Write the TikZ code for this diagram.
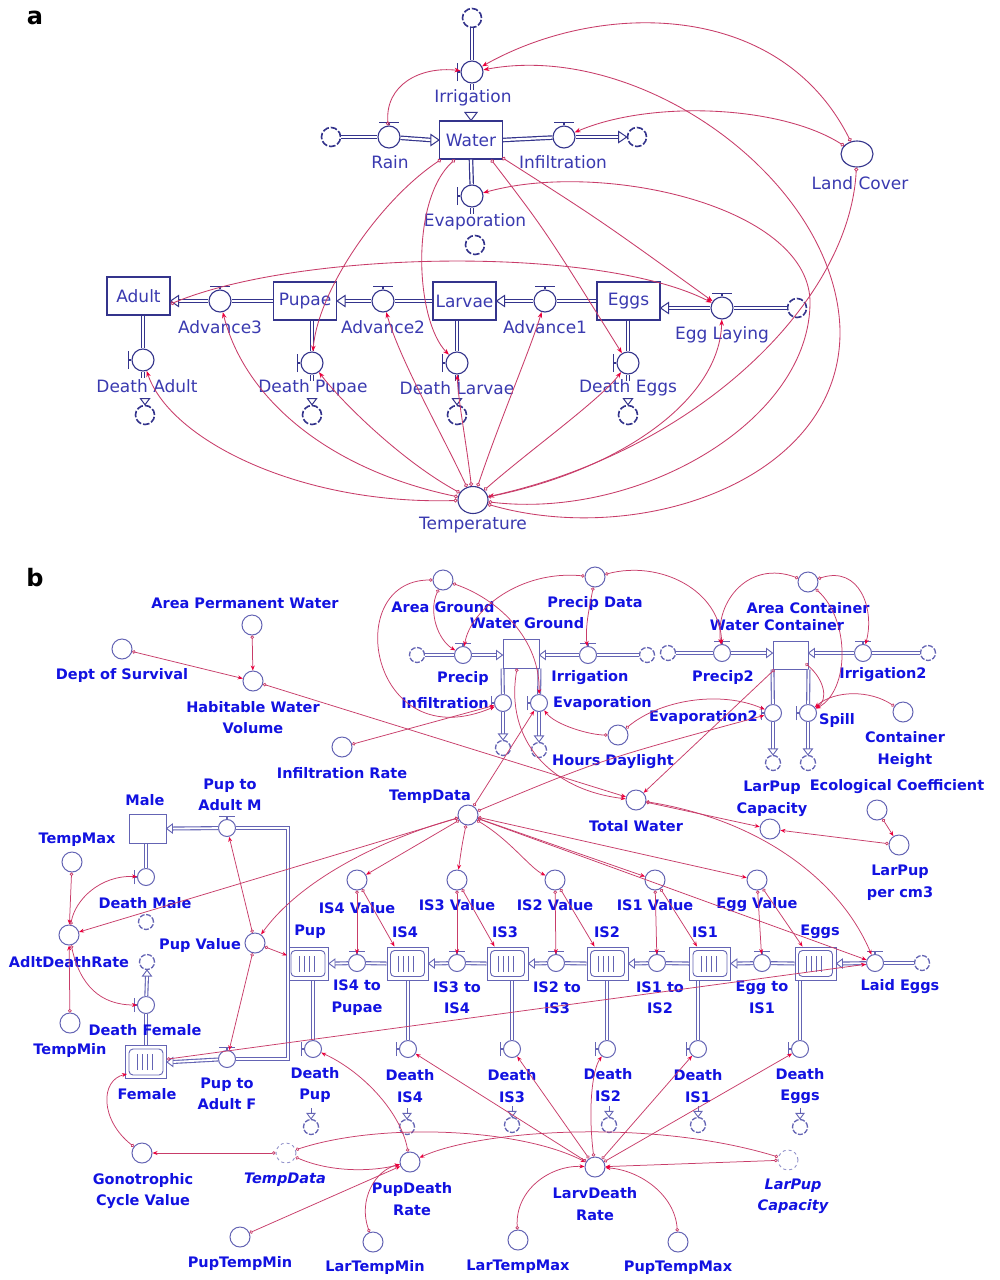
\documentclass[tikz,border=0pt]{standalone}
\usepackage{fontspec}
\setmainfont{DejaVu Sans}
\usetikzlibrary{arrows.meta,shapes.symbols,shapes.geometric,calc}
\definecolor{flowA}{RGB}{52,52,140}
\definecolor{flowB}{RGB}{100,100,180}
\definecolor{conn}{RGB}{200,60,105}
\definecolor{tipc}{RGB}{235,0,60}
\definecolor{labA}{RGB}{58,58,176}
\definecolor{labB}{RGB}{18,18,225}
\tikzset{
 pipeA/.style={draw=flowA, double=white, double distance=2.2pt, line width=1.2pt},
 pipeB/.style={draw=flowB, double=white, double distance=1.8pt, line width=1.1pt},
 tipA/.style={draw=flowA, fill=white, line width=1pt, line join=miter},
 tipB/.style={draw=flowB, fill=white, line width=0.9pt},
 valA/.style={circle, draw=flowA, line width=1.1pt, fill=white, minimum size=22pt, inner sep=0pt},
 valB/.style={circle, draw=flowB, line width=1pt, fill=white, minimum size=17pt, inner sep=0pt},
 auxA/.style={ellipse, draw=flowA, line width=1.1pt, fill=white, minimum width=32pt, minimum height=26pt, inner sep=0pt},
 auxB/.style={circle, draw=flowB, line width=1pt, fill=white, minimum size=20pt, inner sep=0pt},
 ghost/.style={circle, draw=flowB!70, dashed, line width=0.9pt, minimum size=20pt, inner sep=0pt},
 hdlA/.style={draw=flowA, line width=1.6pt},
 hdlB/.style={draw=flowB, line width=1.4pt},
 cloudA/.style={circle, draw=flowA, line width=1.6pt, dash pattern=on 6.5pt off 2pt, fill=white, minimum size=19pt, inner sep=0pt},
 cloudB/.style={circle, draw=flowB, line width=1.3pt, dash pattern=on 5pt off 1.6pt, fill=white, minimum size=15pt, inner sep=0pt},
 stockA/.style={rectangle, draw=flowA, line width=1.1pt, fill=white, minimum width=63pt, minimum height=38pt, inner sep=0pt, font=\fontsize{17}{19}\selectfont, text=labA},
 stockB/.style={rectangle, draw=flowB, line width=1pt, fill=white, inner sep=0pt},
 lA/.style={font=\fontsize{17}{19}\selectfont, text=labA, inner sep=0pt},
 lB/.style={font=\fontsize{14.5}{21.5}\selectfont\bfseries, text=labB, align=center, inner sep=0pt},
 lBi/.style={font=\fontsize{14.5}{21.5}\selectfont\bfseries\itshape, text=labB, align=center, inner sep=0pt},
 panel/.style={font=\fontsize{24}{26}\selectfont\bfseries, text=black, inner sep=0pt},
 cnA/.style={draw=conn, line width=0.85pt, {Circle[open,length=4pt,width=4pt,line width=0.8pt]}-{Stealth[length=6pt,width=4.5pt,color=tipc]}},
 cnB/.style={draw=conn, line width=0.75pt, {Circle[open,length=3.5pt,width=3.5pt,line width=0.7pt]}-{Stealth[length=5pt,width=4pt,color=tipc]}},
}
% valves
\newcommand{\vAT}[3]{\node[valA] (#1) at (#2,#3) {}; \draw[hdlA] (#1.north) -- ++(0,3pt) ++(-10pt,0) -- ++(20pt,0);}
\newcommand{\vAL}[3]{\node[valA] (#1) at (#2,#3) {}; \draw[hdlA] (#1.west) -- ++(-3pt,0) ++(0,-9pt) -- ++(0,18pt);}
\newcommand{\vBT}[3]{\node[valB] (#1) at (#2,#3) {}; \draw[hdlB] (#1.north) -- ++(0,2.5pt) ++(-8pt,0) -- ++(16pt,0);}
\newcommand{\vBL}[3]{\node[valB] (#1) at (#2,#3) {}; \draw[hdlB] (#1.west) -- ++(-2.5pt,0) ++(0,-7pt) -- ++(0,14pt);}
% open flow tips (tip at #2)
\newcommand{\ftL}[2]{\draw[#1] #2 -- ++(8pt,5.5pt) -- ++(0,-11pt) -- cycle;}
\newcommand{\ftR}[2]{\draw[#1] #2 -- ++(-8pt,5.5pt) -- ++(0,-11pt) -- cycle;}
\newcommand{\ftD}[2]{\draw[#1] #2 -- ++(-6pt,8pt) -- ++(12pt,0) -- cycle;}
\newcommand{\ftl}[2]{\draw[#1] #2 -- ++(6pt,4.5pt) -- ++(0,-9pt) -- cycle;}
\newcommand{\ftr}[2]{\draw[#1] #2 -- ++(-6pt,4.5pt) -- ++(0,-9pt) -- cycle;}
\newcommand{\ftd}[2]{\draw[#1] #2 -- ++(-4.5pt,6pt) -- ++(9pt,0) -- cycle;}
\newcommand{\ftu}[2]{\draw[#1] #2 -- ++(-4.5pt,-6pt) -- ++(9pt,0) -- cycle;}
% conveyor
\newcommand{\convey}[3]{%
 \node[stockB, minimum width=41pt, minimum height=33pt] (#1) at (#2,#3) {};
 \draw[flowB, line width=0.9pt, rounded corners=4pt] ($(#1.south west)+(4pt,4pt)$) rectangle ($(#1.north east)+(-4pt,-4pt)$);
 \foreach \k in {-9,-4,1,6} \draw[flowB, line width=0.8pt] ($(#1.center)+(\k pt,-8pt)$) -- ($(#1.center)+(\k pt,8pt)$);
}
\begin{document}
\begin{tikzpicture}[x=1pt,y=-1pt]
\fill[white] (0,0) rectangle (999,1280);
\useasboundingbox (0,0) rectangle (999,1280);
\node[panel] (pa) at (35,18) {a};
\node[panel] (pb) at (35,578) {b};

%================ PART A =================
\node[cloudA] (cIrr) at (472,18) {};
\vAL{vIrr}{472}{72}
\node[stockA] (Water) at (471,140) {Water};
\node[cloudA] (cRain) at (331,137) {};
\vAT{vRain}{389}{137}
\vAT{vInf}{564}{137}
\node[cloudA] (cInf) at (637,137) {};
\vAL{vEvap}{472}{196}
\node[cloudA] (cEvap) at (475,245) {};
\node[auxA] (lc) at (857,154) {};
\node[auxA, minimum width=30pt, minimum height=27pt] (tA) at (473,500) {};

\node[stockA] (Adult) at (138.5,296) {Adult};
\node[stockA] (Pupae) at (305,301) {Pupae};
\node[stockA] (Larvae) at (464.5,301) {Larvae};
\node[stockA] (EggsA) at (628.5,301) {Eggs};
\vAT{vAdv3}{220}{301}
\vAT{vAdv2}{383}{301}
\vAT{vAdv1}{545}{301}
\vAT{vEgg}{722}{308}
\node[cloudA] (cEgg) at (797,308) {};
\vAL{vDA}{143}{360}
\vAL{vDP}{312}{363}
\vAL{vDL}{457}{363}
\vAL{vDE}{628}{363}
\node[cloudA] (cDA) at (145,415) {};
\node[cloudA] (cDP) at (312,415) {};
\node[cloudA] (cDL) at (457,415) {};
\node[cloudA] (cDE) at (628,415) {};

% labels a
\node[lA] (tIrr) at (473,98) {Irrigation};
\node[lA] (tRain) at (390,162) {Rain};
\node[lA] (tInf) at (563,162) {Infiltration};
\node[lA] (tEvap) at (475,222) {Evaporation};
\node[lA] (tLC) at (860,183) {Land Cover};
\node[lA] (tAdv3) at (220,327) {Advance3};
\node[lA] (tAdv2) at (383,327) {Advance2};
\node[lA] (tAdv1) at (545,327) {Advance1};
\node[lA] (tEgg) at (722,335) {Egg Laying};
\node[lA] (tDA) at (147,386) {Death Adult};
\node[lA] (tDP) at (313,388) {Death Pupae};
\node[lA] (tDL) at (457,388) {Death Larvae};
\node[lA] (tDE) at (628,388) {Death Eggs};
\node[lA] (tT) at (473,525) {Temperature};

% flows a
\draw[pipeA] (cIrr) -- (vIrr);
\draw[pipeA] (vIrr.south) -- ++(0,-6pt);
\ftD{tipA}{(Water.north)}
\draw[pipeA] (cRain) -- (vRain);
\draw[pipeA] (vRain) -- ($(Water.west)+(-8pt,0)$);
\ftR{tipA}{(Water.west)}
\draw[pipeA] (Water.east) -- (vInf);
\draw[pipeA] (vInf) -- ($(cInf.west)+(-8pt,0)$);
\ftR{tipA}{(cInf.west)}
\draw[pipeA] (Water.south) -- (vEvap);
\draw[pipeA] (vEvap.south) -- ++(0,-6pt);
\draw[pipeA] (Pupae.west) -- (vAdv3);
\draw[pipeA] (vAdv3) -- ($(Adult.east |- vAdv3)+(8pt,0)$);
\ftL{tipA}{(Adult.east |- vAdv3)}
\draw[pipeA] (Larvae.west) -- (vAdv2);
\draw[pipeA] (vAdv2) -- ($(Pupae.east)+(8pt,0)$);
\ftL{tipA}{(Pupae.east)}
\draw[pipeA] (EggsA.west) -- (vAdv1);
\draw[pipeA] (vAdv1) -- ($(Larvae.east)+(8pt,0)$);
\ftL{tipA}{(Larvae.east)}
\draw[pipeA] (cEgg) -- (vEgg);
\draw[pipeA] (vEgg) -- ($(EggsA.east |- vEgg)+(8pt,0)$);
\ftL{tipA}{(EggsA.east |- vEgg)}
\foreach \v/\s/\c in {vDA/Adult/cDA, vDP/Pupae/cDP, vDL/Larvae/cDL, vDE/EggsA/cDE}{
  \draw[pipeA] (\v |- \s.south) -- (\v);
  \draw[pipeA] (\v.south) -- ++(0,-6pt);
  \draw[tipA] (\c.north) -- ++(-4.5pt,6pt) -- ++(9pt,0) -- cycle;
}

% connectors a
\draw[cnA] (vRain) .. controls (385,85) and (420,66) .. (vIrr);
\draw[cnA] (lc) .. controls (780,0) and (600,0) .. (vIrr);
\draw[cnA] (lc) .. controls (780,105) and (650,100) .. (vInf);
\draw[cnA] (tA) .. controls (640,548) and (842,480) .. (840,330) .. controls (836,180) and (640,40) .. (vIrr);
\draw[cnA] (tA) .. controls (640,520) and (812,420) .. (810,300) .. controls (806,205) and (600,160) .. (vEvap);
\draw[cnA] (lc) .. controls (850,300) and (700,450) .. (tA);
\draw[cnA] ($(Water.south west)+(2pt,0)$) .. controls (380,200) and (318,290) .. (vDP);
\draw[cnA] ($(Water.south west)+(16pt,0)$) .. controls (410,200) and (415,320) .. (vDL);
\draw[cnA] ($(Water.south east)+(-12pt,0)$) .. controls (545,230) .. (vDE);
\draw[cnA] ($(Water.south east)+(-1pt,2pt)$) .. controls (600,220) .. (vEgg);
\draw[cnA] ($(Adult.east)+(0,-8pt)$) .. controls (300,250) and (600,245) .. (vEgg);
\draw[cnA] (tA) .. controls (300,505) and (170,440) .. (vDA);
\draw[cnA] (tA) .. controls (330,470) and (245,400) .. (vAdv3);
\draw[cnA] (tA) .. controls (400,460) and (340,400) .. (vDP);
\draw[cnA] (tA) .. controls (440,430) and (400,360) .. (vAdv2);
\draw[cnA] (tA) .. controls (466,440) and (458,400) .. (vDL);
\draw[cnA] (tA) .. controls (500,420) and (530,350) .. (vAdv1);
\draw[cnA] (tA) .. controls (530,450) and (600,400) .. (vDE);
\draw[cnA] (tA) .. controls (620,470) and (720,400) .. (vEgg);

%================ PART B =================
\node[auxB] (apw) at (252,625) {};
\node[auxB] (dos) at (122,649) {};
\node[auxB] (hwv) at (253,681) {};
\node[auxB] (ir) at (342,747) {};
\node[auxB] (ag) at (443,580) {};
\node[auxB] (pd) at (595,577) {};
\node[auxB] (hd) at (618,735) {};
\node[auxB] (ac) at (808,582) {};
\node[auxB] (ch) at (903,712) {};
\node[auxB] (lpc) at (770,829) {};
\node[auxB] (ec) at (877,810) {};
\node[auxB] (lpcm) at (899,845) {};
\node[auxB] (tw) at (636,800) {};
\node[auxB] (td) at (468,815) {};
\node[auxB] (tmax) at (72,862) {};
\node[auxB] (adr) at (69,935) {};
\node[auxB] (tmin) at (70,1023) {};
\node[auxB] (pv) at (255,943) {};
\node[auxB] (is4v) at (357,880) {};
\node[auxB] (is3v) at (457,880) {};
\node[auxB] (is2v) at (555,880) {};
\node[auxB] (is1v) at (655,880) {};
\node[auxB] (egv) at (757,880) {};
\node[auxB] (gcv) at (142,1153) {};
\node[ghost] (tdg) at (286,1153) {};
\node[auxB] (pdr) at (410,1162) {};
\node[auxB] (ptmin) at (240,1237) {};
\node[auxB] (ltmin) at (373,1242) {};
\node[auxB] (ldr) at (595,1167) {};
\node[auxB] (ltmax) at (518,1240) {};
\node[auxB] (ptmax) at (678,1242) {};
\node[ghost] (lpcg) at (788,1160) {};

% stocks b
\node[stockB, minimum width=36pt, minimum height=29pt] (wg) at (521,653.5) {};
\node[stockB, minimum width=35pt, minimum height=28pt] (wc) at (790.5,655) {};
\node[stockB, minimum width=37pt, minimum height=29pt] (male) at (147.5,828.5) {};
\convey{pup}{308}{963.5}
\convey{is4}{407.5}{963.5}
\convey{is3}{507.5}{963.5}
\convey{is2}{607.5}{963.5}
\convey{is1}{710}{963.5}
\convey{eggsB}{815.5}{963.5}
\convey{female}{146}{1062}

% valves and clouds b
\node[cloudB] (cPr) at (417,655) {};
\vBT{vPr}{463}{655}
\node[cloudB] (cIrB) at (647,655) {};
\vBT{vIrB}{588}{655}
\vBL{vInfB}{503}{703}
\vBL{vEvB}{539}{703}
\node[cloudB] (cInfB) at (503,748) {};
\node[cloudB] (cEvB) at (539,750) {};
\node[cloudB] (cPr2) at (668,653) {};
\vBT{vPr2}{722}{653}
\node[cloudB] (cIr2) at (928,653) {};
\vBT{vIr2}{863}{653}
\vBL{vEv2}{773}{713}
\vBL{vSp}{808}{713}
\node[cloudB] (cEv2) at (773,763) {};
\node[cloudB] (cSp) at (808,763) {};
\vBT{vPAM}{227}{828}
\vBL{vDM}{146}{877}
\node[cloudB] (cDM) at (146,922) {};
\vBL{vDF}{146}{1005}
\node[cloudB] (cDF) at (147,962) {};
\vBT{vPAF}{227}{1059}
\vBT{vIS4P}{357}{963}
\vBT{vIS3}{457}{963}
\vBT{vIS2}{556}{963}
\vBT{vIS1}{657}{963}
\vBT{vE1}{762}{963}
\vBT{vLaid}{875}{963}
\node[cloudB] (cLaid) at (922,963) {};
\vBL{vDPup}{313}{1049}
\vBL{vDIS4}{408}{1049}
\vBL{vDIS3}{512}{1049}
\vBL{vDIS2}{607}{1049}
\vBL{vDIS1}{698}{1049}
\vBL{vDEg}{800}{1049}
\node[cloudB] (cDPup) at (311,1127) {};
\node[cloudB] (cDIS4) at (407,1127) {};
\node[cloudB] (cDIS3) at (512,1125) {};
\node[cloudB] (cDIS2) at (609,1125) {};
\node[cloudB] (cDIS1) at (698,1125) {};
\node[cloudB] (cDEg) at (800,1127) {};
\coordinate (pcorner) at (288,828);
\coordinate (fcorner) at (288,1059);

% flows b
\draw[pipeB] (cPr) -- (vPr);
\draw[pipeB] (vPr) -- ($(wg.west |- vPr)+(-6pt,0)$);
\ftr{tipB}{(wg.west |- vPr)}
\draw[pipeB] (cIrB) -- (vIrB);
\draw[pipeB] (vIrB) -- ($(wg.east |- vIrB)+(6pt,0)$);
\ftl{tipB}{(wg.east |- vIrB)}
\draw[pipeB] (wg.south west) -- (vInfB);
\draw[pipeB] (vInfB) -- ($(cInfB.north)+(0,6pt)$);
\ftd{tipB}{(cInfB.north)}
\draw[pipeB] (wg.south east) -- (vEvB);
\draw[pipeB] (vEvB) -- ($(cEvB.north)+(0,6pt)$);
\ftd{tipB}{(cEvB.north)}
\draw[flowB, line width=1pt] (wg.south west) -- (wg.south east);
\draw[pipeB] (cPr2) -- (vPr2);
\draw[pipeB] (vPr2) -- ($(wc.west |- vPr2)+(-6pt,0)$);
\ftr{tipB}{(wc.west |- vPr2)}
\draw[pipeB] (cIr2) -- (vIr2);
\draw[pipeB] (vIr2) -- ($(wc.east |- vIr2)+(6pt,0)$);
\ftl{tipB}{(wc.east |- vIr2)}
\draw[pipeB] (wc.south west) -- (vEv2);
\draw[pipeB] (vEv2) -- ($(cEv2.north)+(0,6pt)$);
\ftd{tipB}{(cEv2.north)}
\draw[pipeB] (wc.south east) -- (vSp);
\draw[pipeB] (vSp) -- ($(cSp.north)+(0,6pt)$);
\ftd{tipB}{(cSp.north)}
\draw[pipeB] (vPAM) -- (pcorner) -- (fcorner) -- (vPAF);
\draw[pipeB] (vPAM) -- ($(male.east)+(6pt,0)$);
\ftl{tipB}{(male.east)}
\draw[pipeB] (vPAF) -- ($(female.east)+(6pt,0)$);
\ftl{tipB}{(female.east)}
\draw[pipeB] (vDM |- male.south) -- (vDM);
\draw[pipeB] (vDF |- female.north) -- (vDF);
\draw[pipeB] (vDF) -- ($(cDF.south)+(0,-6pt)$);
\ftu{tipB}{(cDF.south)}
\draw[pipeB] (cLaid) -- (vLaid);
\draw[pipeB] (vLaid) -- ($(eggsB.east)+(6pt,0)$);
\ftl{tipB}{(eggsB.east)}
\foreach \s/\v/\t in {eggsB/vE1/is1, is1/vIS1/is2, is2/vIS2/is3, is3/vIS3/is4, is4/vIS4P/pup}{
  \draw[pipeB] (\s.west) -- (\v);
  \draw[pipeB] (\v) -- ($(\t.east)+(6pt,0)$);
  \draw[tipB] (\t.east) -- ++(6pt,4.5pt) -- ++(0,-9pt) -- cycle;
}
\foreach \s/\v/\c in {pup/vDPup/cDPup, is4/vDIS4/cDIS4, is3/vDIS3/cDIS3, is2/vDIS2/cDIS2, is1/vDIS1/cDIS1, eggsB/vDEg/cDEg}{
  \draw[pipeB] (\v |- \s.south) -- (\v);
  \draw[flowB, line width=1pt] ($(\c.north)+(0,5pt)$) -- ++(0,6pt);
  \draw[tipB] (\c.north) -- ++(-4pt,5.5pt) -- ++(8pt,0) -- cycle;
}

% labels b
\node[lB] (tapw) at (245,603) {Area Permanent Water};
\node[lB] (tdos) at (122,675) {Dept of Survival};
\node[lB] (thwv) at (253,717.5) {Habitable Water\\Volume};
\node[lB] (tir) at (342,773) {Infiltration Rate};
\node[lB] (tag) at (443,607) {Area Ground};
\node[lB] (tpd) at (595,603) {Precip Data};
\node[lB] (twg) at (527,623) {Water Ground};
\node[lB] (tpr) at (463,678) {Precip};
\node[lB] (tirb) at (590,678) {Irrigation};
\node[lB, anchor=east] (tinfb) at (489,703) {Infiltration};
\node[lB, anchor=west] (tevb) at (553,703) {Evaporation};
\node[lB] (thd) at (613,762) {Hours Daylight};
\node[lB] (tpr2) at (723,677) {Precip2};
\node[lB] (tac) at (808,608) {Area Container};
\node[lB] (twc) at (777,625) {Water Container};
\node[lB] (tir2) at (883,675) {Irrigation2};
\node[lB, anchor=east] (tev2) at (758,717) {Evaporation2};
\node[lB] (tsp) at (837,720) {Spill};
\node[lB] (tch) at (905,749.5) {Container\\Height};
\node[lB] (tlpc) at (772,799) {LarPup\\Capacity};
\node[lB] (tec) at (897,787) {Ecological Coefficient};
\node[lB] (tlpcm) at (900,882.5) {LarPup\\per cm3};
\node[lB] (ttw) at (636,826) {Total Water};
\node[lB] (ttd) at (430,797) {TempData};
\node[lB] (tmale) at (145,800) {Male};
\node[lB] (tpam) at (230,795) {Pup to\\Adult M};
\node[lB] (ttmax) at (77,840) {TempMax};
\node[lB] (tdm) at (145,903) {Death Male};
\node[lB] (tadr) at (69,962) {AdltDeathRate};
\node[lB] (tdf) at (145,1030) {Death Female};
\node[lB] (ttmin) at (70,1050) {TempMin};
\node[lB] (tpv) at (200,945) {Pup Value};
\node[lB] (tis4v) at (357,908) {IS4 Value};
\node[lB] (tis3v) at (457,905) {IS3 Value};
\node[lB] (tis2v) at (555,905) {IS2 Value};
\node[lB] (tis1v) at (655,905) {IS1 Value};
\node[lB] (tegv) at (757,905) {Egg Value};
\node[lB] (tpup) at (310,932) {Pup};
\node[lB] (tis4) at (405,932) {IS4};
\node[lB] (tis3) at (505,932) {IS3};
\node[lB] (tis2) at (607,932) {IS2};
\node[lB] (tis1) at (705,932) {IS1};
\node[lB] (teggs) at (820,932) {Eggs};
\node[lB] (tvis4p) at (357,997.5) {IS4 to\\Pupae};
\node[lB] (tvis3) at (457,997.5) {IS3 to\\IS4};
\node[lB] (tvis2) at (557,997.5) {IS2 to\\IS3};
\node[lB] (tvis1) at (660,997.5) {IS1 to\\IS2};
\node[lB] (tve1) at (762,997.5) {Egg to\\IS1};
\node[lB] (tlaid) at (900,987) {Laid Eggs};
\node[lB] (tdpup) at (315,1085) {Death\\Pup};
\node[lB] (tdis4) at (410,1086) {Death\\IS4};
\node[lB] (tdis3) at (512,1086) {Death\\IS3};
\node[lB] (tdis2) at (608,1085) {Death\\IS2};
\node[lB] (tdis1) at (698,1086) {Death\\IS1};
\node[lB] (tdeg) at (800,1086) {Death\\Eggs};
\node[lB] (tfem) at (147,1094) {Female};
\node[lB] (tpaf) at (227,1094) {Pup to\\Adult F};
\node[lB] (tgcv) at (143,1191) {Gonotrophic\\Cycle Value};
\node[lBi] (ttdg) at (285,1180) {TempData};
\node[lB] (tpdr) at (412,1199) {PupDeath\\Rate};
\node[lB] (tldr) at (595,1204) {LarvDeath\\Rate};
\node[lBi] (tlpcg) at (793,1196.5) {LarPup\\Capacity};
\node[lB] (tptmin) at (240,1263) {PupTempMin};
\node[lB] (tltmin) at (375,1267) {LarTempMin};
\node[lB] (tltmax) at (518,1267) {LarTempMax};
\node[lB] (tptmax) at (678,1268) {PupTempMax};

% connectors b
\draw[cnB] (apw) -- (hwv);
\draw[cnB] (dos) -- (hwv);
\draw[cnB] (hwv) -- (tw);
\draw[cnB] (ir) -- (vInfB);
\draw[cnB] (ag) .. controls (428,612) and (438,640) .. (vPr);
\draw[cnB] (ag) .. controls (500,600) and (540,640) .. (vEvB);
\draw[cnB] (ag) .. controls (340,580) and (370,760) .. (vInfB);
\draw[cnB] (pd) .. controls (520,570) and (470,610) .. (vPr);
\draw[cnB] (pd) .. controls (590,605) and (585,625) .. (vIrB);
\draw[cnB] (pd) .. controls (660,560) and (720,590) .. (vPr2);
\draw[cnB] (ac) .. controls (750,560) and (715,600) .. (vPr2);
\draw[cnB] (ac) .. controls (860,565) and (875,610) .. (vIr2);
\draw[cnB] (ac) .. controls (850,620) and (850,690) .. (vSp);
\draw[cnB] ($(wc.south east)+(-3pt,6pt)$) .. controls (825,680) and (828,700) .. (vSp);
\draw[cnB] (ch) .. controls (870,690) and (835,690) .. (vSp);
\draw[cnB] (hd) .. controls (590,735) and (555,725) .. (vEvB);
\draw[cnB] (hd) .. controls (660,700) and (720,690) .. (vEv2);
\draw[cnB] ($(wg.south)+(-4pt,0)$) .. controls (505,740) and (550,790) .. (tw);
\draw[cnB] ($(wc.south west)+(2pt,0)$) -- (tw);
\draw[cnB] (tw) -- (lpc);
\draw[cnB] (ec) -- (lpcm);
\draw[cnB] (lpcm) -- (lpc);
\draw[cnB] (td) -- (vEvB);
\draw[cnB] (td) .. controls (600,760) .. (vEv2);
\draw[cnB] (td) -- (adr);
\draw[cnB] (td) .. controls (380,840) and (300,880) .. (pv);
\draw[cnB] (pv) -- (vPAM);
\draw[cnB] (pv) -- (pup);
\draw[cnB] (pv) -- (vPAF);
\draw[cnB] (tmax) -- (adr);
\draw[cnB] (tmin) -- (adr);
\draw[cnB] (adr) .. controls (75,900) and (100,875) .. (vDM);
\draw[cnB] (adr) .. controls (80,985) and (100,1005) .. (vDF);
\draw[cnB] (td) -- (is4v);
\draw[cnB] (td) .. controls (462,845) .. (is3v);
\draw[cnB] (td) .. controls (510,840) and (530,868) .. (is2v);
\draw[cnB] (td) -- (is1v);
\draw[cnB] (td) -- (egv);
\draw[cnB] (td) -- (vLaid);
\draw[cnB] (tw) .. controls (760,820) and (840,880) .. (vLaid);
\foreach \a/\v/\s in {is4v/vIS4P/is4, is3v/vIS3/is3, is2v/vIS2/is2, is1v/vIS1/is1, egv/vE1/eggsB}{
  \draw[cnB] (\a) -- (\v);
  \draw[cnB] (\a) -- ($(\s.north west)+(8pt,0)$);
}
\draw[cnB] (female) -- (vLaid);
\draw[cnB] (gcv) .. controls (100,1120) and (100,1080) .. ($(female.south west)+(2pt,5pt)$);
\draw[cnB] (tdg) -- (gcv);
\draw[cnB] (tdg) .. controls (330,1172) and (370,1172) .. (pdr);
\draw[cnB] (tdg) .. controls (380,1122) and (520,1128) .. (ldr);
\draw[cnB] (lpcg) -- (ldr);
\draw[cnB] (lpcg) .. controls (650,1118) and (480,1130) .. (pdr);
\draw[cnB] (pdr) .. controls (400,1110) and (360,1070) .. (vDPup);
\draw[cnB] (ptmin) -- (pdr);
\draw[cnB] (ltmin) .. controls (358,1200) and (375,1170) .. (pdr);
\draw[cnB] (ldr) -- (vDIS4);
\draw[cnB] (ldr) -- (vDIS3);
\draw[cnB] (ldr) .. controls (588,1110) and (592,1070) .. (vDIS2);
\draw[cnB] (ldr) -- (vDIS1);
\draw[cnB] (ldr) -- (vDEg);
\draw[cnB] (ltmax) .. controls (515,1190) and (550,1165) .. (ldr);
\draw[cnB] (ptmax) .. controls (675,1195) and (640,1170) .. (ldr);
\end{tikzpicture}
\end{document}
